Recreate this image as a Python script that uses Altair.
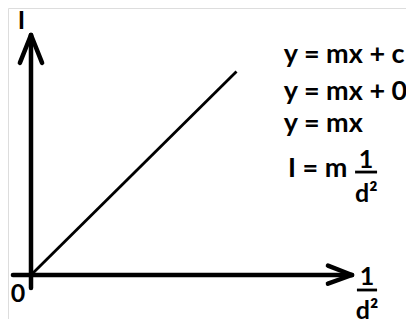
import altair as alt
import pandas as pd

# Straight-line relation I = m * (1/d^2) through the origin
line_x = [0.0, 1.0]
line_y = [0.0, 0.99]

# Equation text block
eq_text = ["y = mx + c", "y = mx + 0", "y = mx", "I = m"]
eq_x = [1.230, 1.230, 1.230, 1.250]
eq_y = [1.032, 0.852, 0.696, 0.477]

# Axis labels
ax_text = ["I", "0"]
ax_x = [-0.046, -0.063]
ax_y = [1.197, -0.131]

# Fraction labels (1 over d squared)
fr_text = ["1", "d²", "1", "d²"]
fr_x = [1.635, 1.635, 1.630, 1.632]
fr_y = [-0.049, -0.212, 0.521, 0.355]

# Axis arrows (segments)
seg_x = [-0.088, 0.0, -0.054, 0.054, 1.445, 1.445]
seg_y = [0.0, -0.063, 1.032, 1.032, 0.046, -0.042]
seg_x2 = [1.562, 0.0, 0.0, 0.0, 1.562, 1.562]
seg_y2 = [0.0, 1.168, 1.168, 1.168, 0.0, 0.0]

# Fraction bars
bar_x = [1.577, 1.586]
bar_x2 = [1.684, 1.684]
bar_y = [0.501, -0.073]

FONT = "Lato"
xs = alt.Scale(domain=[-0.1119, 1.8248], nice=False, zero=False)
ys = alt.Scale(domain=[-0.2141, 1.2993], nice=False, zero=False)

line_df = pd.DataFrame({"x": line_x, "y": line_y})
eq_df = pd.DataFrame({"t": eq_text, "x": eq_x, "y": eq_y})
ax_df = pd.DataFrame({"t": ax_text, "x": ax_x, "y": ax_y})
fr_df = pd.DataFrame({"t": fr_text, "x": fr_x, "y": fr_y})
seg_df = pd.DataFrame({"x": seg_x, "y": seg_y, "x2": seg_x2, "y2": seg_y2})
bar_df = pd.DataFrame({"x": bar_x, "x2": bar_x2, "y": bar_y})

ax = None

line = alt.Chart(line_df).mark_line(color="black", strokeWidth=2.8).encode(
    x=alt.X("x:Q", scale=xs, axis=ax),
    y=alt.Y("y:Q", scale=ys, axis=ax),
)

segs = alt.Chart(seg_df).mark_rule(color="black", strokeWidth=4.5, strokeCap="round").encode(
    x=alt.X("x:Q", scale=xs, axis=ax),
    y=alt.Y("y:Q", scale=ys, axis=ax),
    x2="x2:Q",
    y2="y2:Q",
)

bars = alt.Chart(bar_df).mark_rule(color="black", strokeWidth=2.8).encode(
    x=alt.X("x:Q", scale=xs, axis=ax),
    x2="x2:Q",
    y=alt.Y("y:Q", scale=ys, axis=ax),
)

eqs = alt.Chart(eq_df).mark_text(
    font=FONT, fontWeight="bold", fontSize=27, align="left", baseline="alphabetic", color="black"
).encode(
    x=alt.X("x:Q", scale=xs, axis=ax),
    y=alt.Y("y:Q", scale=ys, axis=ax),
    text="t:N",
)

axl = alt.Chart(ax_df).mark_text(
    font=FONT, fontWeight="bold", fontSize=25, align="center", baseline="alphabetic", color="black"
).encode(
    x=alt.X("x:Q", scale=xs, axis=ax),
    y=alt.Y("y:Q", scale=ys, axis=ax),
    text="t:N",
)

frl = alt.Chart(fr_df).mark_text(
    font=FONT, fontWeight="bold", fontSize=25, align="center", baseline="alphabetic", color="black"
).encode(
    x=alt.X("x:Q", scale=xs, axis=ax),
    y=alt.Y("y:Q", scale=ys, axis=ax),
    text="t:N",
)

chart = alt.layer(line, segs, bars, eqs, axl, frl).properties(
    width=398, height=311, padding=0, autosize=alt.AutoSizeParams(type="none")
).configure_view(stroke=None).configure(background="white")

chart.save("out.html", embed_options={"renderer": "svg", "actions": False})
